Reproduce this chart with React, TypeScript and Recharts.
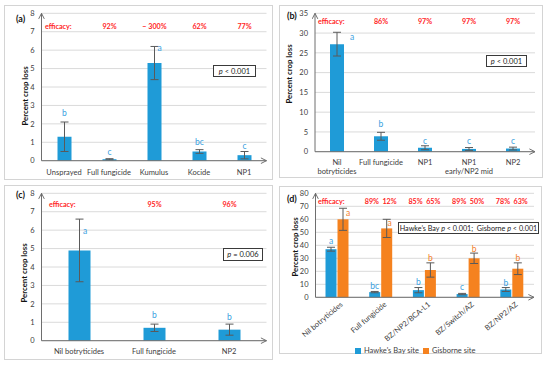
import React from 'react';
import { ComposedChart, Bar, XAxis, YAxis, CartesianGrid, ErrorBar, LabelList, Legend } from 'recharts';

// ---------------- data ----------------
// Panel (a)
const aCategories = ['Unsprayed', 'Full fungicide', 'Kumulus', 'Kocide', 'NP1'];
const aLoss = [1.3, 0.08, 5.3, 0.5, 0.3];
const aError = [0.8, 0.03, 0.9, 0.1, 0.2];
const aLetters = ['b', 'c', 'a', 'bc', 'c'];
const aLetterAt = [2.6, 0.45, 6.1, 1.0, 0.8];
const aEfficacy = ['efficacy:', '92%', '\u2212 300%', '62%', '77%'];
const aTicks = [0, 1, 2, 3, 4, 5, 6, 7, 8];
const aP = ['p', ' < 0.001'];

// Panel (b)
const bCategories = ['Nil\nbotryticides', 'Full fungicide', 'NP1', 'NP1\nearly/NP2 mid', 'NP2'];
const bLoss = [27.2, 3.9, 1.0, 0.7, 0.8];
const bError = [3.0, 1.0, 0.5, 0.35, 0.35];
const bLetters = ['a', 'b', 'c', 'c', 'c'];
const bLetterAt = [29, 7, 2.8, 2.8, 2.8];
const bEfficacy = ['efficacy:', '86%', '97%', '97%', '97%'];
const bTicks = [0, 5, 10, 15, 20, 25, 30, 35];
const bP = ['p', ' < 0.001'];

// Panel (c)
const cCategories = ['Nil botryticides', 'Full fungicide', 'NP2'];
const cLoss = [4.9, 0.7, 0.6];
const cError = [1.7, 0.2, 0.3];
const cLetters = ['a', 'b', 'b'];
const cLetterAt = [5.97, 1.4, 1.27];
const cEfficacy = ['efficacy:', '95%', '96%'];
const cTicks = [0, 1, 2, 3, 4, 5, 6, 7, 8];
const cP = ['p', ' = 0.006'];

// Panel (d)
const dCategories = ['Nil botryticides', 'Full fungicide', 'BZ/NP2/BCA-L1', 'BZ/Switch/AZ', 'BZ/NP2/AZ'];
const dSeriesNames = ["Hawke's Bay site", 'Gisborne site'];
const hawkesBay = [37, 4, 5.5, 2.5, 6];
const hawkesBayError = [1.5, 0.5, 2, 0.5, 1.5];
const hawkesBayLetters = ['a', 'bc', 'b', 'c', 'b'];
const hawkesBayLetterAt = [43, 8.7, 12, 7.7, 10.8];
const gisborne = [60, 53, 21, 30, 22];
const gisborneError = [8.5, 7, 5.5, 4, 4.5];
const gisborneLetters = ['a', 'a', 'b', 'b', 'b'];
const gisborneLetterAt = [65, 57, 30, 37, 30];
const dEfficacy = ['efficacy:', '89%  12%', '85%  65%', '89%  50%', '78%  63%'];
const dTicks = [0, 10, 20, 30, 40, 50, 60, 70, 80];

// ---------------- style / layout ----------------
const W = 550;
const H = 365;
const YW = 30;
const XH = 20;
const FONT = 'Lato, "Open Sans", Arial, sans-serif';
const BLUE = '#1f9bd7';
const ORANGE = '#f5821f';
const LETTER_BLUE = '#3a9fe0';
const LETTER_ORANGE = '#f27d2a';
const RED = '#ff1f1f';
const AXIS = '#6e6e6e';
const GRID = '#dadada';
const TEXT = '#404040';
const ERR = '#5a5a5a';
const BORDER = '#d4d4d4';

type Plot = { left: number; top: number; right: number; bottom: number };

const aLayout = { plot: { left: 41.5, top: 13.3, right: 266.5, bottom: 160.7 }, barSize: 14, effY: 28.5, effStart: 3.5, letterDx: [0, 0, 5, 0, 0], labelDy: 13.8 };
const bLayout = { plot: { left: 315, top: 13.3, right: 535, bottom: 151.7 }, barSize: 14, effY: 24.2, effStart: 3, letterDx: [15, 0, 0, 0, 0], labelDy: 12.8 };
const cLayout = { plot: { left: 41.5, top: 193.3, right: 266.5, bottom: 340.7 }, barSize: 22, effY: 206.5, effStart: 7.5, letterDx: [5.5, 0, 0], labelDy: 13.5 };
const dLayout = { plot: { left: 315.5, top: 193.3, right: 534, bottom: 297.3 }, barSize: 11, barGap: 1, effY: 203.5, effStart: 2.5, hbLetterDx: [0, 0, 0, 0, 0], gLetterDx: [5, 3, 0, 0, 0] };

const marginFor = (p: Plot) => ({ left: p.left - YW, right: W - p.right, top: p.top, bottom: H - p.bottom - XH });

const lv = (p: any) => {
  const vb = p.viewBox && typeof p.viewBox.x === 'number' ? p.viewBox : p;
  return { x: Number(vb.x), y: Number(vb.y), width: Number(vb.width), height: Number(vb.height) };
};

function letterContent(values: number[], letterAt: number[], dx: number[], color: string) {
  return (p: any) => {
    const { x, y, width, height } = lv(p);
    const i = p.index;
    const v = values[i];
    const base = y + height;
    const ppu = height / v;
    const cy = base - letterAt[i] * ppu;
    return (
      <text x={x + width / 2 + (dx[i] || 0)} y={cy} dy="0.35em" textAnchor="middle" fill={color} fontSize={8.5} fontFamily={FONT}>
        {p.value}
      </text>
    );
  };
}

function effContent(plot: Plot, effY: number, effStart: number, centerShift: number) {
  return (p: any) => {
    const { x, width } = lv(p);
    const i = p.index;
    if (i === 0) {
      return (
        <text x={plot.left + effStart} y={effY} textAnchor="start" fill={RED} fontSize={7.2} fontWeight="bold" fontFamily={FONT}>
          {p.value}
        </text>
      );
    }
    return (
      <text x={x + width / 2 + centerShift} y={effY} textAnchor="middle" fill={RED} fontSize={7.2} fontWeight="bold" fontFamily={FONT} style={{ whiteSpace: 'pre' }}>
        {p.value}
      </text>
    );
  };
}

function CatTick(props: any) {
  const { x, y, payload, dyFirst } = props;
  const lines = String(payload.value).split('\n');
  return (
    <text x={x} y={y + dyFirst} textAnchor="middle" fill={TEXT} fontSize={7.5} fontFamily={FONT}>
      {lines.map((l, k) => (
        <tspan key={k} x={x} dy={k === 0 ? 0 : 9}>
          {l}
        </tspan>
      ))}
    </text>
  );
}

function RotTick(props: any) {
  const { x, y, payload } = props;
  const tx = x + 6;
  const ty = y + 8;
  return (
    <text x={tx} y={ty} textAnchor="end" fill={TEXT} fontSize={7.5} fontFamily={FONT} transform={`rotate(-40, ${tx}, ${ty})`}>
      {payload.value}
    </text>
  );
}

const yTick = { fontSize: 7.5, fill: TEXT, fontFamily: FONT };

function SinglePanel(props: any) {
  const { cats, loss, err, letters, letterAt, eff, ticks, layout } = props;
  const rows = cats.map((c: string, i: number) => ({ cat: c, loss: loss[i], err: [err[i], err[i]], letter: letters[i], eff: eff[i] }));
  const plot: Plot = layout.plot;
  return (
    <div style={{ position: 'absolute', left: 0, top: 0 }}>
      <ComposedChart width={W} height={H} data={rows} margin={marginFor(plot)}>
        <CartesianGrid vertical={false} stroke={GRID} />
        <XAxis
          dataKey="cat"
          height={XH}
          interval={0}
          tickSize={0}
          tickMargin={0}
          tickLine={false}
          axisLine={{ stroke: AXIS, markerEnd: 'url(#arrowHead)' }}
          tick={(tp: any) => <CatTick {...tp} dyFirst={layout.labelDy} />}
        />
        <YAxis
          width={YW}
          type="number"
          domain={[0, ticks[ticks.length - 1]]}
          ticks={ticks}
          interval={0}
          tickSize={0}
          tickMargin={7}
          tickLine={false}
          axisLine={{ stroke: AXIS, markerStart: 'url(#arrowHead)' }}
          tick={yTick}
        />
        <Bar dataKey="loss" fill={BLUE} barSize={layout.barSize} isAnimationActive={false}>
          <ErrorBar dataKey="err" width={4} stroke={ERR} strokeWidth={1} />
          <LabelList dataKey="letter" content={letterContent(loss, letterAt, layout.letterDx, LETTER_BLUE)} />
          <LabelList dataKey="eff" content={effContent(plot, layout.effY, layout.effStart, 0)} />
        </Bar>
      </ComposedChart>
    </div>
  );
}

function LegendContent(p: any) {
  const items = [...(p.payload || [])].sort(
    (u: any, v: any) => dSeriesNames.indexOf(u.value) - dSeriesNames.indexOf(v.value)
  );
  return (
    <div style={{ display: 'flex', alignItems: 'center', fontFamily: FONT, fontSize: 7.5, color: TEXT, whiteSpace: 'nowrap' }}>
      {items.map((it: any, k: number) => (
        <div key={k} style={{ display: 'flex', alignItems: 'center', marginRight: 4 }}>
          <div style={{ width: 6, height: 6, background: it.color, marginRight: 3 }} />
          <span>{it.value}</span>
        </div>
      ))}
    </div>
  );
}

function PanelD() {
  const rows = dCategories.map((c, i) => ({
    cat: c,
    hb: hawkesBay[i],
    hbErr: [hawkesBayError[i], hawkesBayError[i]],
    hbLetter: hawkesBayLetters[i],
    g: gisborne[i],
    gErr: [gisborneError[i], gisborneError[i]],
    gLetter: gisborneLetters[i],
    eff: dEfficacy[i],
  }));
  const plot = dLayout.plot;
  return (
    <div style={{ position: 'absolute', left: 0, top: 0 }}>
      <ComposedChart width={W} height={H} data={rows} margin={marginFor(plot)} barGap={dLayout.barGap}>
        <CartesianGrid vertical={false} stroke={GRID} />
        <XAxis
          dataKey="cat"
          height={XH}
          interval={0}
          tickSize={0}
          tickMargin={0}
          tickLine={false}
          axisLine={{ stroke: AXIS, markerEnd: 'url(#arrowHead)' }}
          tick={(tp: any) => <RotTick {...tp} />}
        />
        <YAxis
          width={YW}
          type="number"
          domain={[0, 80]}
          ticks={dTicks}
          interval={0}
          tickSize={0}
          tickMargin={7}
          tickLine={false}
          axisLine={{ stroke: AXIS, markerStart: 'url(#arrowHead)' }}
          tick={yTick}
        />
        <Legend
          layout="horizontal"
          verticalAlign="middle"
          align="center"
          wrapperStyle={{ left: 355, top: 346, width: 160, height: 10 }}
          content={(lp: any) => <LegendContent {...lp} />}
        />
        <Bar dataKey="hb" name={dSeriesNames[0]} fill={BLUE} barSize={dLayout.barSize} isAnimationActive={false}>
          <ErrorBar dataKey="hbErr" width={4} stroke={ERR} strokeWidth={1} />
          <LabelList dataKey="hbLetter" content={letterContent(hawkesBay, hawkesBayLetterAt, dLayout.hbLetterDx, LETTER_BLUE)} />
          <LabelList dataKey="eff" content={effContent(plot, dLayout.effY, dLayout.effStart, dLayout.barSize / 2 + dLayout.barGap / 2)} />
        </Bar>
        <Bar dataKey="g" name={dSeriesNames[1]} fill={ORANGE} barSize={dLayout.barSize} isAnimationActive={false}>
          <ErrorBar dataKey="gErr" width={4} stroke={ERR} strokeWidth={1} />
          <LabelList dataKey="gLetter" content={letterContent(gisborne, gisborneLetterAt, dLayout.gLetterDx, LETTER_ORANGE)} />
        </Bar>
      </ComposedChart>
    </div>
  );
}

function PBox({ x, y, w, h, parts, fs = 7.5 }: any) {
  return (
    <g>
      <rect x={x} y={y} width={w} height={h} fill="#fff" stroke="#3a3a3a" strokeWidth={1} />
      <text x={x + w / 2} y={y + h / 2} dy="0.35em" textAnchor="middle" fontSize={fs} fontFamily={FONT} fill="#222">
        {parts.map((s: string, k: number) =>
          s === 'p' ? (
            <tspan key={k} fontStyle="italic">p</tspan>
          ) : (
            <tspan key={k} style={{ whiteSpace: 'pre' }}>{s}</tspan>
          )
        )}
      </text>
    </g>
  );
}

function YTitle({ x, y }: any) {
  return (
    <text x={x} y={y} transform={`rotate(-90, ${x}, ${y})`} textAnchor="middle" dy="0.35em" fontSize={7.8} fontWeight="bold" fontFamily={FONT} fill="#111">
      Percent crop loss
    </text>
  );
}

function PanelTag({ x, y, t }: any) {
  return (
    <text x={x} y={y} fontSize={9} fontWeight="bold" fontFamily={FONT} fill="#111">
      {t}
    </text>
  );
}

export default function App() {
  return (
    <div style={{ position: 'absolute', left: 0, top: 0, width: W, height: H, background: '#fff', overflow: 'hidden' }}>
      <svg width={W} height={H} style={{ position: 'absolute', left: 0, top: 0 }}>
        <defs>
          <marker id="arrowHead" viewBox="0 0 10 10" refX="9" refY="5" markerWidth="7" markerHeight="7" markerUnits="userSpaceOnUse" orient="auto-start-reverse">
            <path d="M1,1 L9,5 L1,9" fill="none" stroke={AXIS} strokeWidth={1.4} />
          </marker>
        </defs>
        <rect x={4.5} y={5.5} width={268} height={174} fill="none" stroke={BORDER} />
        <rect x={279.5} y={5.5} width={263} height={172} fill="none" stroke={BORDER} />
        <rect x={4.5} y={185.5} width={268} height={174} fill="none" stroke={BORDER} />
        <rect x={279.5} y={186.5} width={262} height={167} fill="none" stroke={BORDER} />
      </svg>

      <SinglePanel cats={aCategories} loss={aLoss} err={aError} letters={aLetters} letterAt={aLetterAt} eff={aEfficacy} ticks={aTicks} layout={aLayout} />
      <SinglePanel cats={bCategories} loss={bLoss} err={bError} letters={bLetters} letterAt={bLetterAt} eff={bEfficacy} ticks={bTicks} layout={bLayout} />
      <SinglePanel cats={cCategories} loss={cLoss} err={cError} letters={cLetters} letterAt={cLetterAt} eff={cEfficacy} ticks={cTicks} layout={cLayout} />
      <PanelD />

      <svg width={W} height={H} style={{ position: 'absolute', left: 0, top: 0, pointerEvents: 'none' }}>
        <PanelTag x={16} y={21.5} t="(a)" />
        <PanelTag x={287} y={18.5} t="(b)" />
        <PanelTag x={16} y={198} t="(c)" />
        <PanelTag x={287} y={201.5} t="(d)" />
        <YTitle x={25} y={96} />
        <YTitle x={289} y={74} />
        <YTitle x={24} y={273} />
        <YTitle x={295} y={247} />
        <PBox x={213.5} y={65.5} w={42} h={11} parts={aP} />
        <PBox x={486.5} y={55.5} w={40} h={11} parts={bP} />
        <PBox x={223.5} y={248.5} w={39} h={12} parts={cP} />
        <PBox x={398.5} y={222.5} w={140} h={11} parts={['Hawke\u2019s Bay ', 'p', ' < 0.001;  Gisborne ', 'p', ' < 0.001']} fs={7.2} />
      </svg>
    </div>
  );
}
